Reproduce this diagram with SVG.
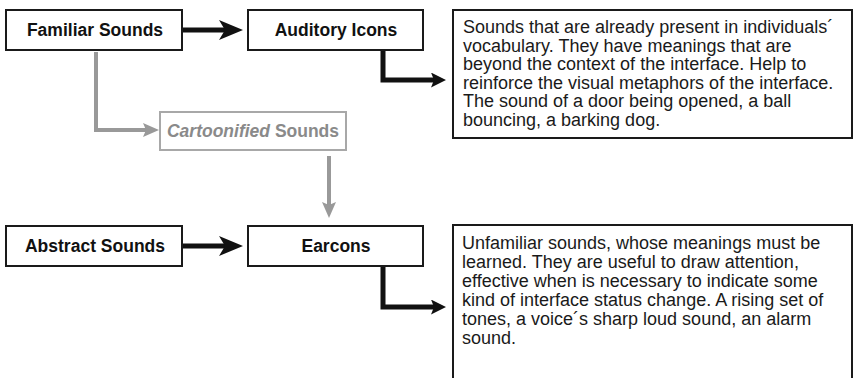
<svg xmlns="http://www.w3.org/2000/svg" width="854" height="378" viewBox="0 0 854 378">
<style>
.box{fill:#fff;stroke:#1a1a1a;stroke-width:2}
.gbox{fill:#fff;stroke:#a8a8a8;stroke-width:2}
.lbl{font-family:"Liberation Sans",Arial,sans-serif;font-weight:bold;font-size:17.5px;fill:#111;text-anchor:middle}
.glbl{font-family:"Liberation Sans",Arial,sans-serif;font-weight:bold;font-size:17.5px;fill:#8a8a8a;text-anchor:middle}
.desc{font-family:"Liberation Sans",Arial,sans-serif;font-size:18px;fill:#1a1a1a}
.blk{fill:none;stroke:#111;stroke-width:5}
.gry{fill:none;stroke:#999;stroke-width:4}
</style>
<defs>
<marker id="bigHead" markerUnits="userSpaceOnUse" markerWidth="24" markerHeight="20" refX="6" refY="10" orient="auto">
<path d="M0,0 L24,10 L0,20 L6,10 Z" fill="#111"/>
</marker>
<marker id="smallHead" markerUnits="userSpaceOnUse" markerWidth="15" markerHeight="15" refX="3" refY="7.5" orient="auto">
<path d="M0,0 L15,7.5 L0,15 L3,7.5 Z" fill="#111"/>
</marker>
<marker id="grayHead" markerUnits="userSpaceOnUse" markerWidth="16" markerHeight="14" refX="3" refY="7" orient="auto">
<path d="M0,0 L16,7 L0,14 L3,7 Z" fill="#999"/>
</marker>
</defs>

<g id="connectors">
<path class="blk" d="M183,30 H225" marker-end="url(#bigHead)"/>
<path class="blk" d="M383,50 V80 H434" marker-end="url(#smallHead)"/>
<path class="gry" d="M96,52 V130 H146" marker-end="url(#grayHead)"/>
<path class="gry" d="M329,156 V205" marker-end="url(#grayHead)"/>
<path class="blk" d="M183,246 H225" marker-end="url(#bigHead)"/>
<path class="blk" d="M383,266 V307 H434" marker-end="url(#smallHead)"/>
</g>

<g id="familiar-sounds">
<rect class="box" x="6" y="10" width="176" height="40"/>
<text class="lbl" x="95" y="36">Familiar Sounds</text>
</g>
<g id="auditory-icons">
<rect class="box" x="248" y="10" width="175" height="40"/>
<text class="lbl" x="336" y="36">Auditory Icons</text>
</g>
<g id="cartoonified-sounds">
<rect class="gbox" x="160" y="112" width="186" height="38"/>
<text class="glbl" x="253" y="137"><tspan font-style="italic">Cartoonified</tspan> Sounds</text>
</g>
<g id="abstract-sounds">
<rect class="box" x="6" y="226" width="176" height="40"/>
<text class="lbl" x="95" y="252">Abstract Sounds</text>
</g>
<g id="earcons">
<rect class="box" x="248" y="226" width="175" height="40"/>
<text class="lbl" x="336" y="252">Earcons</text>
</g>

<g id="auditory-icons-desc">
<rect class="box" x="453" y="10" width="399" height="128"/>
<text class="desc" x="463" y="33">
<tspan x="463" y="33">Sounds that are already present in individuals´</tspan>
<tspan x="463" y="51.5">vocabulary. They have meanings that are</tspan>
<tspan x="463" y="70">beyond the context of the interface. Help to</tspan>
<tspan x="463" y="88.5">reinforce the visual metaphors of the interface.</tspan>
<tspan x="463" y="107">The sound of a door being opened, a ball</tspan>
<tspan x="463" y="125.5">bouncing, a barking dog.</tspan>
</text>
</g>
<g id="earcons-desc">
<rect class="box" x="453" y="225" width="399" height="170"/>
<text class="desc" x="462" y="249">
<tspan x="462" y="249">Unfamiliar sounds, whose meanings must be</tspan>
<tspan x="462" y="268">learned. They are useful to draw attention,</tspan>
<tspan x="462" y="287">effective when is necessary to indicate some</tspan>
<tspan x="462" y="306">kind of interface status change. A rising set of</tspan>
<tspan x="462" y="325">tones, a voice´s sharp loud sound, an alarm</tspan>
<tspan x="462" y="344">sound.</tspan>
</text>
</g>
</svg>
